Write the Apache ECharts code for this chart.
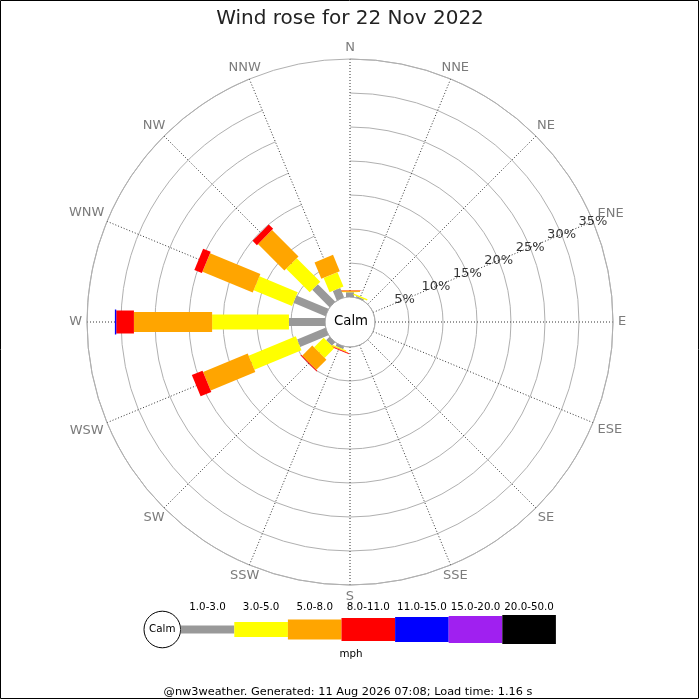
<!DOCTYPE html>
<html>
<head>
<meta charset="utf-8">
<script src="https://cdn.jsdelivr.net/npm/echarts/dist/echarts.min.js"></script>
<style>
html,body{margin:0;padding:0;background:#fff;}
#chart{width:700px;height:700px;}
</style>
</head>
<body>
<div id="chart"></div>
<script>
// ---- data ----
var dirs = ['N','NNE','NE','ENE','E','ESE','SE','SSE','S','SSW','SW','WSW','W','WNW','NW','NNW'];
var bins = ['1.0-3.0','3.0-5.0','5.0-8.0','8.0-11.0','11.0-15.0','15.0-20.0','20.0-50.0'];
// percent of time per direction, one array per speed bin (order follows dirs)
var s1_3   = [0.7, 0.2, 0, 0, 0, 0, 0, 0, 0, 0.4, 0.7, 4.5, 5.3, 5.1, 3.6, 1.5];
var s3_5   = [0.05,0.2, 0, 0, 0, 0, 0, 0, 0, 0.15,2.0, 7.5, 11.3,6.1, 4.9, 2.3];
var s5_8   = [0.2, 0,   0, 0, 0, 0, 0, 0, 0, 0.1, 2.1, 7.1, 11.5,8.0, 5.5, 2.6];
var s8_11  = [0.05,0,   0, 0, 0, 0, 0, 0, 0, 0.1, 0.15,1.7, 2.6, 1.2, 0.9, 0];
var s11_15 = [0,   0,   0, 0, 0, 0, 0, 0, 0, 0,   0,   0,   0.2, 0,   0,   0];
var s15_20 = [0,   0,   0, 0, 0, 0, 0, 0, 0, 0,   0,   0,   0,   0,   0,   0];
var s20_50 = [0,   0,   0, 0, 0, 0, 0, 0, 0, 0,   0,   0,   0,   0,   0,   0];
var ringTicks = [5, 10, 15, 20, 25, 30, 35];
var ringLabels = ['5%','10%','15%','20%','25%','30%','35%'];
var titleText = 'Wind rose for 22 Nov 2022';
var footerText = '@nw3weather. Generated: 11 Aug 2026 07:08; Load time: 1.16 s';
var unitText = 'mph';

// ---- styles ----
var colors = ['#999999','#ffff00','#ffa500','#ff0000','#0000ff','#a020f0','#000000'];
var barW = [8, 15, 20, 23, 25, 27, 29];
var dirFont = 13, dirPad = 5, outerPx = 263;

// build stacked segments
var seriesVals = [s1_3, s3_5, s5_8, s8_11, s11_15, s15_20, s20_50];
var segs = [];
for (var d = 0; d < dirs.length; d++) {
  var cum = 0;
  for (var b = 0; b < seriesVals.length; b++) {
    var v = seriesVals[b][d];
    if (v > 0) segs.push([cum + v, d, cum, b]);
    cum += v;
  }
}

// direction labels: box edge placed a fixed pad outside the outer ring
var mctx = document.createElement('canvas').getContext('2d');
mctx.font = dirFont + 'px "DejaVu Sans"';
var dirLabelData = dirs.map(function (name, i) {
  var th = i * 22.5 * Math.PI / 180;
  var sx = Math.sin(th), sy = -Math.cos(th);
  var hw = mctx.measureText(name).width / 2, hh = dirFont / 2;
  var e1 = Math.abs(sx) > 1e-6 ? hw / Math.abs(sx) : Infinity;
  var e2 = Math.abs(sy) > 1e-6 ? hh / Math.abs(sy) : Infinity;
  var edge = Math.min(e1, e2) + dirPad;
  return { value: [ringTicks[ringTicks.length - 1], i], label: { offset: [sx * edge, sy * edge] } };
});

var chart = echarts.init(document.getElementById('chart'));

function renderSeg(params, api) {
  var d = api.value(1), r1 = api.value(0), r0 = api.value(2), b = api.value(3);
  var c = api.coord([0, d]);
  var far = api.coord([35, d]);
  var ux = far[0] - c[0], uy = far[1] - c[1];
  var L = Math.sqrt(ux * ux + uy * uy); ux /= L; uy /= L;
  var nx = -uy, ny = ux, h = barW[b] / 2;
  var p0 = api.coord([r0, d]), p1 = api.coord([r1, d]);
  return {
    type: 'polygon',
    shape: { points: [
      [p0[0] + nx * h, p0[1] + ny * h],
      [p1[0] + nx * h, p1[1] + ny * h],
      [p1[0] - nx * h, p1[1] - ny * h],
      [p0[0] - nx * h, p0[1] - ny * h]
    ]},
    style: { fill: colors[b] }
  };
}

// legend graphics
var legendG = [];
var lx0 = 180.7, lw = 53.6, lcy = 629.5, lfont = '10.3px "DejaVu Sans"';
legendG.push({ type: 'circle', shape: { cx: 162.3, cy: lcy, r: 18.3 }, style: { fill: '#fff', stroke: '#000', lineWidth: 1 }, z: 10 });
legendG.push({ type: 'text', x: 162.3, y: lcy, style: { text: 'Calm', font: lfont, fill: '#000', align: 'center', verticalAlign: 'middle' }, z: 11 });
for (var i = 0; i < bins.length; i++) {
  legendG.push({ type: 'rect', shape: { x: lx0 + i * lw, y: lcy - barW[i] / 2, width: lw, height: barW[i] }, style: { fill: colors[i] }, z: 10 });
  legendG.push({ type: 'text', x: lx0 + i * lw + lw / 2, y: 607, style: { text: bins[i], font: lfont, fill: '#000', align: 'center', verticalAlign: 'middle' }, z: 11 });
}
legendG.push({ type: 'text', x: 351, y: 654, style: { text: unitText, font: lfont, fill: '#000', align: 'center', verticalAlign: 'middle' }, z: 11 });
legendG.push({ type: 'text', x: 348, y: 692.5, style: { text: footerText, font: '11.3px "DejaVu Sans"', fill: '#000', align: 'center', verticalAlign: 'middle' }, z: 11 });
legendG.push({ type: 'text', x: 351, y: 322, style: { text: 'Calm', font: '13.3px "DejaVu Sans"', fill: '#000', align: 'center', verticalAlign: 'middle' }, z: 11 });
legendG.push({ type: 'rect', shape: { x: 0.5, y: 0.5, width: 698, height: 698 }, style: { fill: 'none', stroke: '#000', lineWidth: 1 }, z: 20 });

var option = {
  animation: false,
  backgroundColor: '#fff',
  textStyle: { fontFamily: 'DejaVu Sans' },
  title: {
    text: titleText, left: 'center', top: 4,
    textStyle: { fontSize: 20, fontWeight: 'normal', color: '#222', fontFamily: 'DejaVu Sans' }
  },
  polar: { center: [350, 322], radius: [25, outerPx] },
  angleAxis: {
    type: 'category', data: dirs, startAngle: 90, clockwise: true, boundaryGap: false,
    axisLine: { show: true, lineStyle: { color: '#b0b0b0', width: 1 } },
    axisTick: { show: false },
    axisLabel: { show: false },
    splitLine: { show: true, lineStyle: { color: '#333', type: [1, 2], width: 1 } }
  },
  radiusAxis: {
    type: 'value', min: 0, max: 35, interval: 5,
    axisLine: { show: false }, axisTick: { show: false }, axisLabel: { show: false },
    splitLine: { show: true, lineStyle: { color: '#b0b0b0', width: 1 } }
  },
  series: [
    {
      type: 'custom', coordinateSystem: 'polar', data: segs, renderItem: renderSeg, z: 3, silent: true
    },
    {
      type: 'scatter', coordinateSystem: 'polar', symbolSize: 1, itemStyle: { color: 'rgba(0,0,0,0)' }, z: 5, silent: true,
      data: ringTicks.map(function (t) { return [t, 3]; }),
      label: {
        show: true, position: 'inside', color: '#000', fontSize: 13, fontFamily: 'DejaVu Sans',
        textBorderWidth: 0,
        formatter: function (p) { return ringLabels[p.dataIndex]; }
      }
    },
    {
      type: 'scatter', coordinateSystem: 'polar', symbolSize: 1, itemStyle: { color: 'rgba(0,0,0,0)' }, z: 5, silent: true,
      data: dirLabelData,
      label: {
        show: true, position: 'inside', color: '#5a5a5a', fontSize: dirFont, fontFamily: 'DejaVu Sans',
        textBorderWidth: 0,
        formatter: function (p) { return dirs[p.dataIndex]; }
      }
    }
  ],
  graphic: legendG
};
chart.setOption(option);
</script>
</body>
</html>
